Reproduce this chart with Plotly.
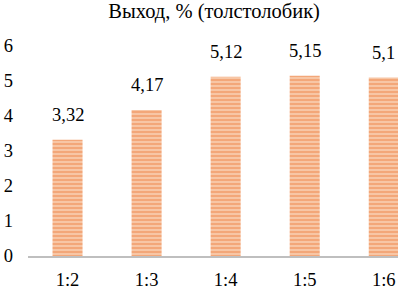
import plotly.graph_objects as go

categories = ["1:2", "1:3", "1:4", "1:5", "1:6"]
values = [3.32, 4.17, 5.12, 5.15, 5.1]
labels = ["3,32", "4,17", "5,12", "5,15", "5,1"]
title = "Выход, % (толстолобик)"

font = "'Times New Roman', 'Liberation Serif', 'DejaVu Serif', serif"

fig = go.Figure(go.Bar(
    x=categories, y=values,
    width=0.38, cliponaxis=False,
    marker=dict(color="#FAD9C2", line=dict(width=0),
                pattern=dict(shape="-", fgcolor="#EC7530", bgcolor="#FAD9C2",
                             size=4, solidity=0.7, fillmode="overlay")),
))

for c, v, t in zip(categories, values, labels):
    fig.add_annotation(x=c, y=v, text=t, showarrow=False, yanchor="bottom",
                       yshift=13, font=dict(family=font, size=18.5, color="#000000"))

fig.update_layout(
    width=398, height=290,
    margin=dict(l=28, r=0, t=46, b=32),
    paper_bgcolor="white", plot_bgcolor="white",
    showlegend=False,
    title=dict(text=title, x=0.538, xanchor="center", y=0.962, yanchor="middle",
               font=dict(family=font, size=20.5, color="#000000")),
    xaxis=dict(type="category", range=[-0.5, 4.18], showgrid=False,
               showline=True, linecolor="#BFBFBF", linewidth=1.5,
               ticks="", ticklabelstandoff=6,
               tickfont=dict(family=font, size=18.5, color="#000000")),
    yaxis=dict(range=[0, 6], dtick=1, showgrid=False, zeroline=False,
               showline=False, ticks="", ticklabelstandoff=14,
               tickfont=dict(family=font, size=18.5, color="#000000")),
)

fig.write_html("out.html", config={"displayModeBar": False},
               post_script="document.body.style.margin='0px';")
